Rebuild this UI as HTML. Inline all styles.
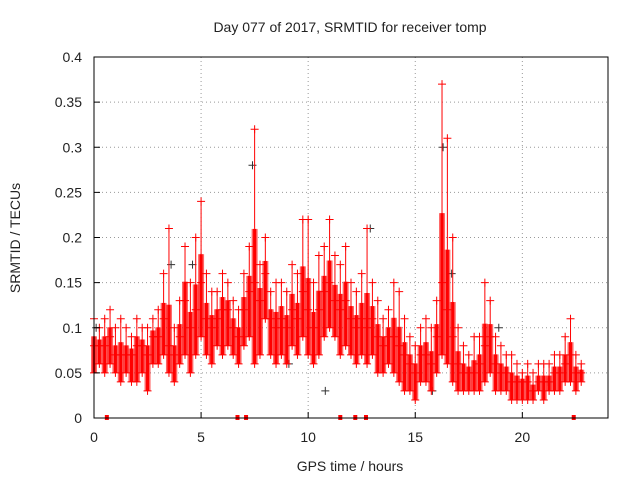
<!DOCTYPE html>
<html><head><meta charset="utf-8"><style>
body{margin:0;background:#fff;width:640px;height:480px;overflow:hidden}
text{font-family:"Liberation Sans",sans-serif;font-size:14px;fill:#222}
</style></head><body>
<svg id="chart" width="640" height="480">
<rect x="0" y="0" width="640" height="480" fill="#fff"/>
<g id="grid"></g>
<g id="marks"></g>
<g id="axes"></g>
<text x="350" y="32" text-anchor="middle">Day 077 of 2017, SRMTID for receiver tomp</text>
<text x="350" y="471" text-anchor="middle">GPS time / hours</text>
<text x="20" y="238" text-anchor="middle" transform="rotate(-90 20 238)">SRMTID / TECUs</text>
</svg>
<script>
const xTicks=[0,5,10,15,20];
const yTicks=[0,0.05,0.1,0.15,0.2,0.25,0.3,0.35,0.4];
const yTickLabels=["0","0.05","0.1","0.15","0.2","0.25","0.3","0.35","0.4"];
const times=[0,0.25,0.5,0.75,1,1.25,1.5,1.75,2,2.25,2.5,2.75,3,3.25,3.5,3.75,4,4.25,4.5,4.75,5,5.25,5.5,5.75,6,6.25,6.5,6.75,7,7.25,7.5,7.75,8,8.25,8.5,8.75,9,9.25,9.5,9.75,10,10.25,10.5,10.75,11,11.25,11.5,11.75,12,12.25,12.5,12.75,13,13.25,13.5,13.75,14,14.25,14.5,14.75,15,15.25,15.5,15.75,16,16.25,16.5,16.75,17,17.25,17.5,17.75,18,18.25,18.5,18.75,19,19.25,19.5,19.75,20,20.25,20.5,20.75,21,21.25,21.5,21.75,22,22.25,22.5,22.75];
const lowVals=[.05,.06,.05,.06,.05,.04,.05,.04,.04,.05,.03,.06,.06,.07,.05,.04,.06,.07,.05,.07,.09,.07,.06,.08,.07,.08,.07,.06,.08,.09,.06,.07,.11,.07,.06,.07,.06,.08,.07,.09,.07,.06,.07,.09,.10,.09,.07,.08,.07,.06,.07,.06,.07,.05,.05,.06,.05,.04,.03,.03,.02,.04,.04,.03,.05,.07,.06,.04,.03,.03,.03,.03,.03,.04,.05,.03,.03,.03,.02,.02,.02,.02,.02,.03,.02,.03,.03,.03,.04,.04,.03,.04];
const midVals=[.08,.08,.08,.09,.07,.07,.07,.07,.08,.08,.07,.09,.09,.11,.08,.07,.09,.13,.10,.12,.15,.11,.10,.11,.12,.12,.10,.09,.12,.14,.15,.13,.16,.11,.10,.11,.10,.12,.11,.14,.12,.10,.12,.14,.15,.13,.12,.13,.11,.10,.11,.10,.11,.09,.08,.09,.09,.08,.07,.06,.05,.07,.07,.06,.09,.15,.12,.09,.06,.05,.05,.05,.06,.08,.09,.06,.05,.05,.04,.04,.04,.04,.03,.04,.04,.04,.05,.05,.06,.07,.05,.05];
const highVals=[.11,.10,.11,.12,.10,.11,.10,.09,.11,.10,.10,.11,.12,.16,.21,.10,.13,.19,.15,.20,.24,.16,.14,.14,.16,.15,.13,.12,.16,.19,.32,.17,.20,.14,.15,.15,.14,.17,.16,.22,.22,.15,.18,.19,.22,.18,.17,.19,.15,.14,.16,.21,.15,.13,.11,.12,.15,.14,.11,.09,.08,.10,.11,.10,.13,.37,.31,.20,.10,.08,.07,.09,.09,.15,.13,.09,.08,.07,.07,.06,.05,.06,.05,.06,.06,.06,.07,.07,.09,.11,.07,.06];
const blackTimes=[0.1,3.6,4.6,7.4,9.1,10.8,12.9,15.8,16.3,16.7,18.9,21.2];
const blackVals=[.10,.17,.17,.28,.06,.03,.21,.03,.30,.16,.10,.04];
const zeroTimes=[0.6,6.7,7.1,11.5,12.2,12.7,22.4];
const X0=94,X1=608,Y0=418,Y1=57,XMAX=24,YMAX=0.4;
const sx=v=>X0+(v/XMAX)*(X1-X0);
const sy=v=>Y0-(v/YMAX)*(Y0-Y1);
const NS="http://www.w3.org/2000/svg";
function mk(tag,attrs,parent){const e=document.createElementNS(NS,tag);for(const k in attrs)e.setAttribute(k,attrs[k]);parent.appendChild(e);return e;}
const grid=document.getElementById('grid'),axes=document.getElementById('axes'),marks=document.getElementById('marks');
xTicks.forEach((t,i)=>{
 const x=sx(t);
 if(t>0){const g=mk('line',{x1:x,x2:x,y1:Y0,y2:Y1,stroke:'#999','stroke-dasharray':'1,3'},grid);
 
 }
 const tk=mk('line',{x1:x,x2:x,y1:Y0,y2:Y0-6,stroke:'#000'},axes);
 
 
 const l=mk('text',{x:x,y:Y0+24,'text-anchor':'middle'},axes);l.textContent=t;
 
 
});
yTicks.forEach((t,i)=>{
 const y=sy(t);
 if(t>0&&t<YMAX){const g=mk('line',{x1:X0,x2:X1,y1:y,y2:y,stroke:'#999','stroke-dasharray':'1,3'},grid);
 
 }
 const tk=mk('line',{x1:X0,x2:X0+6,y1:y,y2:y,stroke:'#000'},axes);
 
 
 const l=mk('text',{x:X0-12,y:y+5,'text-anchor':'end'},axes);l.textContent=yTickLabels[i];
 
 
});
const frame=mk('rect',{x:X0,y:Y1,width:X1-X0,height:Y0-Y1,fill:'none',stroke:'#000'},axes);


function plus(x,y,c,name){const p=mk('path',{d:`M${x-4},${y}h8M${x},${y-4}v8`,stroke:c,'stroke-width':1},marks);
 
 }
blackTimes.forEach((t,i)=>plus(sx(t),sy(blackVals[i]),'#333','black-point'));
times.forEach((t,i)=>{
 const x=sx(t);
 const top=midVals[i]+(highVals[i]-midVals[i])*0.35;
 const ln=mk('line',{x1:x,x2:x,y1:sy(highVals[i]),y2:sy(top),stroke:'#f00','stroke-width':1},marks);
 
 
 const b=mk('rect',{x:x-3,y:sy(top),width:6,height:sy(lowVals[i])-sy(top),fill:'#f00',opacity:0.6},marks);
 
 
 const b2=mk('rect',{x:x-1.5,y:sy(top),width:3,height:sy(lowVals[i])-sy(top),fill:'#f00'},marks);
 
 
 plus(x,sy(lowVals[i]),'#f00','srmtid-point');
 plus(x,sy(midVals[i]),'#f00','srmtid-point');
 plus(x,sy(highVals[i]),'#f00','srmtid-point');
});
zeroTimes.forEach(t=>{const r=mk('rect',{x:sx(t)-2,y:Y0-3,width:4,height:5,fill:'#f00'},marks);
 
 });
</script>
</body></html>
